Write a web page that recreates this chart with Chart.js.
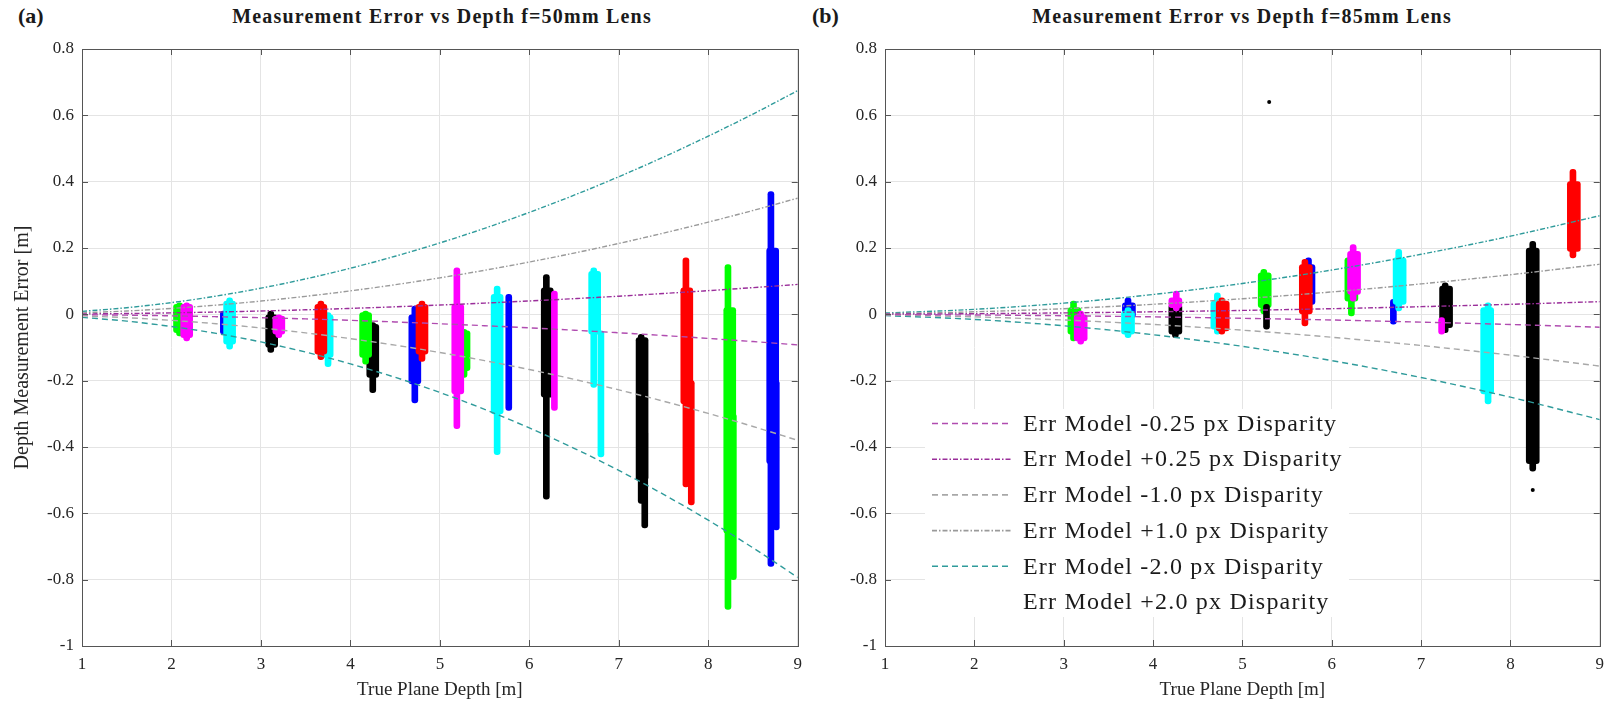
<!DOCTYPE html>
<html>
<head>
<meta charset="utf-8">
<script src="https://cdn.jsdelivr.net/npm/chart.js@4.4.0/dist/chart.umd.min.js"></script>
<style>
  body { margin: 0; background: #fff; width: 1612px; height: 702px; position: relative; overflow: hidden;
         font-family: "Liberation Serif", serif; color: #1a1a1a; }
  canvas { position: absolute; top: 0; }
  .tag { position: absolute; top: 3px; font-weight: bold; font-size: 22px; }
  .ttl { position: absolute; top: 5px; font-weight: bold; font-size: 20px; letter-spacing: 1.2px;
         white-space: nowrap; transform: translateX(-50%); }
</style>
</head>
<body>
<div class="tag" style="left:18px">(a)</div>
<div class="ttl" style="left:442px">Measurement Error vs Depth f=50mm Lens</div>
<div class="tag" style="left:812px">(b)</div>
<div class="ttl" style="left:1242px">Measurement Error vs Depth f=85mm Lens</div>
<canvas id="chartA" width="810" height="702" style="left:0"></canvas>
<canvas id="chartB" width="802" height="702" style="left:810px"></canvas>
<script>
// ---- error model curves ----
const modelDepthA = [1, 1.5, 2, 2.5, 3, 3.5, 4, 4.5, 5, 5.5, 6, 6.5, 7, 7.5, 8, 8.5, 9];
const errM025A = [-0.0011, -0.0025, -0.0045, -0.0071, -0.0102, -0.0138, -0.0181, -0.0229, -0.0284, -0.0343, -0.0408, -0.0479, -0.0556, -0.0638, -0.0727, -0.0821, -0.0921];
const errP025A = [0.0011, 0.0025, 0.0045, 0.0070, 0.0101, 0.0137, 0.0179, 0.0227, 0.0280, 0.0338, 0.0403, 0.0472, 0.0547, 0.0628, 0.0714, 0.0806, 0.0902];
const errM1A = [-0.0045, -0.0102, -0.0182, -0.0284, -0.0411, -0.0560, -0.0733, -0.0930, -0.1151, -0.1396, -0.1665, -0.1959, -0.2277, -0.2620, -0.2988, -0.3381, -0.3799];
const errP1A = [0.0045, 0.0101, 0.0178, 0.0278, 0.0400, 0.0543, 0.0707, 0.0893, 0.1100, 0.1328, 0.1577, 0.1847, 0.2138, 0.2449, 0.2780, 0.3131, 0.3503];
const errM2A = [-0.0091, -0.0205, -0.0367, -0.0575, -0.0832, -0.1138, -0.1494, -0.1899, -0.2356, -0.2864, -0.3425, -0.4039, -0.4707, -0.5429, -0.6207, -0.7041, -0.7933];
const errP2A = [0.0089, 0.0200, 0.0354, 0.0550, 0.0789, 0.1069, 0.1390, 0.1752, 0.2153, 0.2594, 0.3074, 0.3592, 0.4149, 0.4742, 0.5373, 0.6040, 0.6744];

const modelDepthB = [1, 2, 3, 4, 5, 6, 7, 8, 9];
const errM025B = [-0.0005, -0.0019, -0.0043, -0.0076, -0.0119, -0.0171, -0.0234, -0.0306, -0.0388];
const errP025B = [0.0005, 0.0019, 0.0043, 0.0076, 0.0118, 0.0170, 0.0231, 0.0302, 0.0382];
const errM1B = [-0.0019, -0.0076, -0.0171, -0.0305, -0.0478, -0.0690, -0.0940, -0.1231, -0.1560];
const errP1B = [0.0019, 0.0076, 0.0170, 0.0302, 0.0470, 0.0675, 0.0917, 0.1195, 0.1510];
const errM2B = [-0.0038, -0.0153, -0.0345, -0.0615, -0.0965, -0.1395, -0.1905, -0.2498, -0.3173];
const errP2B = [0.0038, 0.0151, 0.0337, 0.0598, 0.0931, 0.1335, 0.1811, 0.2357, 0.2973];

const modelLabels = ["Err Model -0.25 px Disparity", "Err Model +0.25 px Disparity",
  "Err Model -1.0 px Disparity", "Err Model +1.0 px Disparity",
  "Err Model -2.0 px Disparity", "Err Model +2.0 px Disparity"];

// ---- measured point clouds: [depth, min error, max error] ----
// "spread" = full extent incl. sparse tails, "core" = dense part of the cloud
const aGreenSpread = [[2.09, -0.065, 0.035], [4.17, -0.15, 0.01], [5.27, -0.19, -0.045], [8.22, -0.89, 0.15], [8.28, -0.80, -0.30]];
const aGreenCore = [[2.09, -0.055, 0.03], [4.17, -0.13, 0.005], [5.27, -0.17, -0.05], [8.24, -0.66, 0.02]];
const aMagentaSpread = [[2.17, -0.08, 0.035], [3.2, -0.07, 0.0], [5.19, -0.345, 0.14], [6.28, -0.29, 0.07]];
const aMagentaCore = [[2.17, -0.07, 0.03], [3.2, -0.06, -0.005], [5.2, -0.24, 0.03]];
const aBlueSpread = [[2.58, -0.06, 0.01], [4.72, -0.267, 0.025], [5.77, -0.29, 0.06], [8.7, -0.76, 0.37], [8.76, -0.65, -0.2]];
const aBlueCore = [[4.72, -0.21, 0.0], [8.72, -0.45, 0.2]];
const aCyanSpread = [[2.65, -0.105, 0.05], [3.75, -0.158, 0.005], [5.64, -0.423, 0.085], [6.72, -0.22, 0.14], [6.8, -0.43, -0.05]];
const aCyanCore = [[2.65, -0.09, 0.04], [3.74, -0.13, 0.0], [5.64, -0.3, 0.06], [6.73, -0.06, 0.13]];
const aBlackSpread = [[3.11, -0.115, 0.01], [4.25, -0.236, -0.025], [6.19, -0.557, 0.12], [7.25, -0.57, -0.06], [7.29, -0.644, -0.35]];
const aBlackCore = [[3.12, -0.1, 0.0], [4.25, -0.19, -0.03], [6.2, -0.25, 0.08], [7.26, -0.5, -0.07]];
const aRedSpread = [[3.67, -0.137, 0.04], [4.8, -0.142, 0.04], [7.75, -0.52, 0.17], [7.81, -0.575, -0.2]];
const aRedCore = [[3.67, -0.12, 0.03], [4.8, -0.12, 0.03], [7.76, -0.27, 0.08]];

const bGreenSpread = [[3.11, -0.08, 0.04], [5.24, 0.0, 0.136], [6.22, -0.005, 0.18]];
const bGreenCore = [[3.12, -0.06, 0.02], [5.25, 0.02, 0.125], [6.22, 0.04, 0.17]];
const bMagentaSpread = [[3.19, -0.09, 0.01], [4.26, 0.01, 0.07], [6.24, 0.04, 0.21], [7.23, -0.06, -0.01]];
const bMagentaCore = [[3.19, -0.08, 0.0], [4.25, 0.02, 0.05], [6.25, 0.06, 0.19]];
const bBlueSpread = [[3.72, -0.02, 0.05], [5.74, 0.01, 0.17], [6.69, -0.03, 0.045]];
const bBlueCore = [[3.73, -0.01, 0.035], [5.74, 0.03, 0.15]];
const bCyanSpread = [[3.72, -0.07, 0.02], [4.72, -0.06, 0.065], [6.75, 0.01, 0.196], [7.75, -0.27, 0.035]];
const bCyanCore = [[3.72, -0.06, 0.01], [4.72, -0.045, 0.04], [6.76, 0.03, 0.17], [7.74, -0.24, 0.02]];
const bBlackSpread = [[4.25, -0.07, 0.045], [5.27, -0.045, 0.03], [7.27, -0.055, 0.095], [8.25, -0.473, 0.22]];
const bBlackCore = [[4.25, -0.06, 0.03], [7.28, -0.04, 0.085], [8.25, -0.45, 0.2]];
const bRedSpread = [[4.77, -0.06, 0.05], [5.7, -0.035, 0.166], [8.7, 0.17, 0.437]];
const bRedCore = [[4.78, -0.05, 0.04], [5.71, 0.0, 0.15], [8.71, 0.19, 0.4]];
const bOutliers = [[5.3, 0.64], [8.25, -0.53]];

const xTicks = [1, 2, 3, 4, 5, 6, 7, 8, 9];

// ---- styles ----
const SERIF = "'Liberation Serif', serif";
const INK = "#262626";
const lineStyles = [
  { color: "#b04cb0", dash: [6, 4] },
  { color: "#9a2e9a", dash: [5, 2, 1.5, 2] },
  { color: "#a8a8a8", dash: [6, 4] },
  { color: "#9a9a9a", dash: [5, 2, 1.5, 2] },
  { color: "#2f9b9b", dash: [6, 4] },
  { color: "#2f9b9b", dash: [5, 2, 1.5, 2], noSample: true },
];

function cloud(rows, color, thick, order) {
  return {
    type: "bar",
    data: rows.map(([x, lo, hi]) => ({ x: x, y: [lo, hi] })),
    backgroundColor: color,
    barThickness: thick,
    grouped: false,
    borderRadius: 3,
    borderSkipped: false,
    order: order,
  };
}

function models(depth, series) {
  return series.map((vals, i) => ({
    type: "line",
    label: modelLabels[i],
    data: depth.map((x, j) => ({ x: x, y: vals[j] })),
    borderColor: lineStyles[i].color,
    borderDash: lineStyles[i].dash,
    borderWidth: 1.4,
    pointRadius: 0,
    fill: false,
    cubicInterpolationMode: "monotone",
    noSample: !!lineStyles[i].noSample,
    order: 0,
  }));
}

// MATLAB-style box with inward tick marks
const boxPlugin = {
  id: "box",
  afterDatasetsDraw(chart) {
    const { ctx, chartArea: a, scales } = chart;
    ctx.save();
    ctx.strokeStyle = "#555";
    ctx.lineWidth = 1;
    ctx.strokeRect(Math.round(a.left) + 0.5, Math.round(a.top) + 0.5,
      Math.round(a.right - a.left), Math.round(a.bottom - a.top));
    ctx.beginPath();
    scales.x.ticks.forEach((t) => {
      const p = Math.round(scales.x.getPixelForValue(t.value)) + 0.5;
      ctx.moveTo(p, a.bottom); ctx.lineTo(p, a.bottom - 6);
      ctx.moveTo(p, a.top); ctx.lineTo(p, a.top + 6);
    });
    scales.y.ticks.forEach((t) => {
      const p = Math.round(scales.y.getPixelForValue(t.value)) + 0.5;
      ctx.moveTo(a.left, p); ctx.lineTo(a.left + 6, p);
      ctx.moveTo(a.right, p); ctx.lineTo(a.right - 6, p);
    });
    ctx.stroke();
    ctx.restore();
  },
};

// legend box placed inside panel (b)
const legendPlugin = {
  id: "boxLegend",
  afterDraw(chart) {
    const { ctx } = chart;
    const x0 = 115, y0 = 409, w = 424, h = 208;
    const rows = chart.data.datasets.filter((d) => d.label);
    ctx.save();
    ctx.fillStyle = "#fff";
    ctx.fillRect(x0, y0, w, h);
    ctx.font = "24px " + SERIF;
    if ("letterSpacing" in ctx) ctx.letterSpacing = "1.2px";
    ctx.textBaseline = "middle";
    rows.forEach((d, i) => {
      const cy = y0 + 14.5 + i * 35.7;
      if (!d.noSample) {
        ctx.strokeStyle = d.borderColor;
        ctx.lineWidth = 1.6;
        ctx.setLineDash(d.borderDash);
        ctx.beginPath();
        ctx.moveTo(122, cy); ctx.lineTo(202, cy);
        ctx.stroke();
        ctx.setLineDash([]);
      }
      ctx.fillStyle = "#1a1a1a";
      ctx.fillText(d.label, 213, cy + 1);
    });
    ctx.restore();
  },
};

function panel(id, datasets, yWidth, padRight, yTitle, extraPlugins) {
  const tickFont = { family: SERIF, size: 17 };
  return new Chart(document.getElementById(id), {
    type: "bar",
    data: { datasets: datasets },
    plugins: [boxPlugin].concat(extraPlugins),
    options: {
      responsive: false,
      animation: false,
      layout: { padding: { top: 49, right: padRight, bottom: 0, left: 0 } },
      plugins: { legend: { display: false }, tooltip: { enabled: false } },
      scales: {
        x: {
          type: "linear", min: 1, max: 9, offset: false,
          afterBuildTicks: (s) => { s.ticks = xTicks.map((v) => ({ value: v })); },
          ticks: { padding: 8, font: tickFont, color: INK, maxRotation: 0, autoSkip: false },
          grid: { color: "#e4e4e4", drawTicks: false, offset: false },
          border: { color: "#555" },
          title: { display: true, text: "True Plane Depth [m]", font: { family: SERIF, size: 19 },
                   color: INK, padding: { top: 0, bottom: 1 } },
          afterFit: (s) => { s.height = 56; },
        },
        y: {
          type: "linear", min: -1, max: 0.8,
          ticks: { stepSize: 0.2, padding: 8, font: tickFont, color: INK,
                   callback: (v) => String(Math.round(v * 10) / 10) },
          grid: { color: "#e4e4e4", drawTicks: false },
          border: { color: "#555" },
          title: { display: !!yTitle, text: yTitle || "", font: { family: SERIF, size: 20 },
                   color: INK, padding: { top: 11, bottom: 0 } },
          afterFit: (s) => { s.width = yWidth; },
        },
      },
    },
  });
}

const C = { green: "#00ff00", magenta: "#ff00ff", blue: "#0000ff", cyan: "#00ffff", black: "#000000", red: "#ff0000" };

const dataA = [].concat(
  models(modelDepthA, [errM025A, errP025A, errM1A, errP1A, errM2A, errP2A]),
  cloud(aBlackSpread, C.black, 6, 12), cloud(aBlackCore, C.black, 12, 12),
  cloud(aBlueSpread, C.blue, 6, 10), cloud(aBlueCore, C.blue, 12, 10),
  cloud(aGreenSpread, C.green, 6, 8), cloud(aGreenCore, C.green, 12, 8),
  cloud(aCyanSpread, C.cyan, 6, 6), cloud(aCyanCore, C.cyan, 12, 6),
  cloud(aRedSpread, C.red, 6, 4), cloud(aRedCore, C.red, 12, 4),
  cloud(aMagentaSpread, C.magenta, 6, 2), cloud(aMagentaCore, C.magenta, 12, 2)
);

const dataB = [].concat(
  models(modelDepthB, [errM025B, errP025B, errM1B, errP1B, errM2B, errP2B]),
  [{ type: "scatter", data: bOutliers.map(([x, y]) => ({ x: x, y: y })), pointRadius: 2,
     backgroundColor: "#000", borderWidth: 0, order: 1 }],
  cloud(bGreenSpread, C.green, 6, 12), cloud(bGreenCore, C.green, 13, 12),
  cloud(bBlueSpread, C.blue, 6, 10), cloud(bBlueCore, C.blue, 13, 10),
  cloud(bBlackSpread, C.black, 6, 8), cloud(bBlackCore, C.black, 13, 8),
  cloud(bCyanSpread, C.cyan, 6, 6), cloud(bCyanCore, C.cyan, 13, 6),
  cloud(bRedSpread, C.red, 6, 4), cloud(bRedCore, C.red, 13, 4),
  cloud(bMagentaSpread, C.magenta, 6, 2), cloud(bMagentaCore, C.magenta, 13, 2)
);

panel("chartA", dataA, 82, 8, "Depth Measurement Error [m]", []);
panel("chartB", dataB, 75, 5, "", [legendPlugin]);
</script>
</body>
</html>
